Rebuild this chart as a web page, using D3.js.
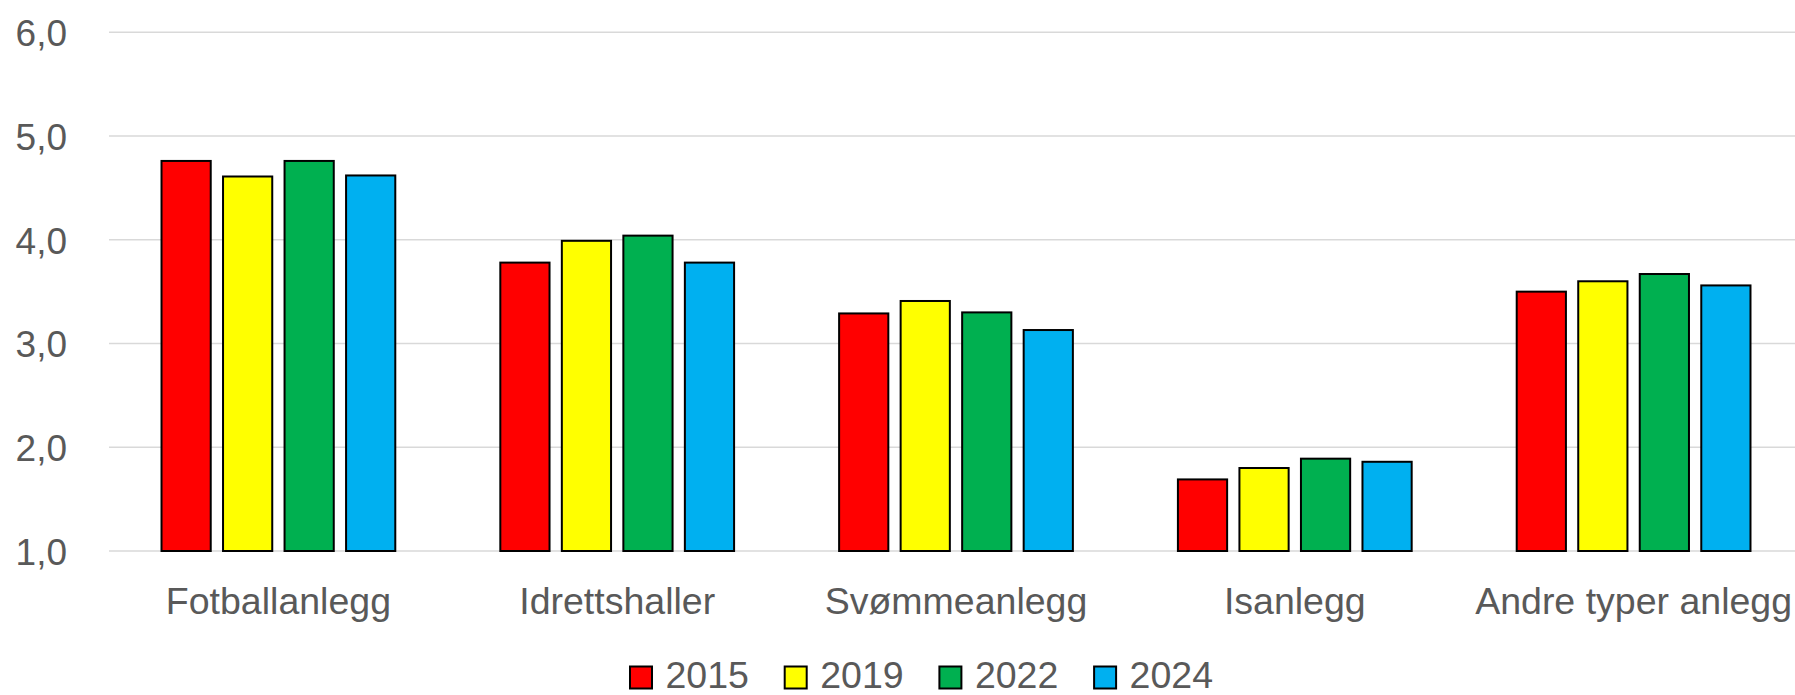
<!DOCTYPE html>
<html><head><meta charset="utf-8">
<script src="https://cdn.jsdelivr.net/npm/d3@7"></script>
<style>
html,body{margin:0;padding:0;background:#fff;}
svg{display:block;}
text{font-family:"Liberation Sans",Arial,sans-serif;fill:#595959;}
</style></head>
<body>
<svg id="chart" width="1795" height="695"></svg>
<script>
const categories = ["Fotballanlegg","Idrettshaller","Svømmeanlegg","Isanlegg","Andre typer anlegg"];
const seriesNames = ["2015","2019","2022","2024"];
const v2015 = [4.76, 3.78, 3.29, 1.69, 3.50];
const v2019 = [4.61, 3.99, 3.41, 1.80, 3.60];
const v2022 = [4.76, 4.04, 3.30, 1.89, 3.67];
const v2024 = [4.62, 3.78, 3.13, 1.86, 3.56];
const yTicks = [1,2,3,4,5,6];
const colors = ["#FF0000","#FFFF00","#00B050","#00B0F0"];

(function(){
const seriesValues = [v2015, v2019, v2022, v2024];
const svg = d3.select("#chart");
const mLeft = 109, mRight = 1803, mTop = 32.3, mBottom = 551;

const x = d3.scaleBand().domain(categories).range([mLeft, mRight]).paddingInner(0.31).paddingOuter(0.155);
const xi = d3.scaleBand().domain(seriesNames).range([0, x.bandwidth()]).paddingInner(0.2).paddingOuter(0);
const y = d3.scaleLinear().domain([1,6]).range([mBottom, mTop]);

// gridlines
svg.append("g").selectAll("line").data(yTicks).join("line")
  .attr("x1", mLeft).attr("x2", mRight)
  .attr("y1", d => y(d)).attr("y2", d => y(d))
  .attr("stroke", "#d9d9d9").attr("stroke-width", 1.5);

// y labels
const yAxis = d3.axisLeft(y).tickValues(yTicks).tickSize(0).tickPadding(0)
  .tickFormat(d => d3.format(".1f")(d).replace(".", ","));
const gy = svg.append("g").attr("transform", "translate(67,0)").call(yAxis);
gy.select(".domain").remove();
gy.selectAll("text").attr("font-size", 37).attr("font-family", "Liberation Sans, Arial, sans-serif")
  .attr("fill", "#595959").attr("dy", "0.36em");

// bars
const groups = svg.append("g").selectAll("g").data(categories).join("g")
  .attr("transform", d => `translate(${x(d)},0)`);
groups.selectAll("rect").data((c, ci) => seriesNames.map((s, si) => ({s, si, v: seriesValues[si][ci]})))
  .join("rect")
  .attr("x", d => xi(d.s)).attr("width", xi.bandwidth())
  .attr("y", d => y(d.v)).attr("height", d => y(1) - y(d.v))
  .attr("fill", d => colors[d.si]).attr("stroke", "#000").attr("stroke-width", 2);

// x labels
const xAxis = d3.axisBottom(x).tickSize(0).tickPadding(0);
const gx = svg.append("g").attr("transform", "translate(0,614)").call(xAxis);
gx.select(".domain").remove();
gx.selectAll("text").attr("font-size", 37.5).attr("font-family", "Liberation Sans, Arial, sans-serif")
  .attr("fill", "#595959").attr("dy", 0);

// legend
const legendX0 = 630, legendPitch = 154.7;
const lg = svg.append("g").selectAll("g").data(seriesNames).join("g")
  .attr("transform", (d, i) => `translate(${legendX0 + i * legendPitch},0)`);
lg.append("rect").attr("x", 0).attr("y", 666.5).attr("width", 22).attr("height", 22)
  .attr("fill", (d, i) => colors[i]).attr("stroke", "#000").attr("stroke-width", 2);
lg.append("text").attr("x", 35.5).attr("y", 687.5).attr("font-size", 37.5).text(d => d);
})();
</script>
</body></html>
